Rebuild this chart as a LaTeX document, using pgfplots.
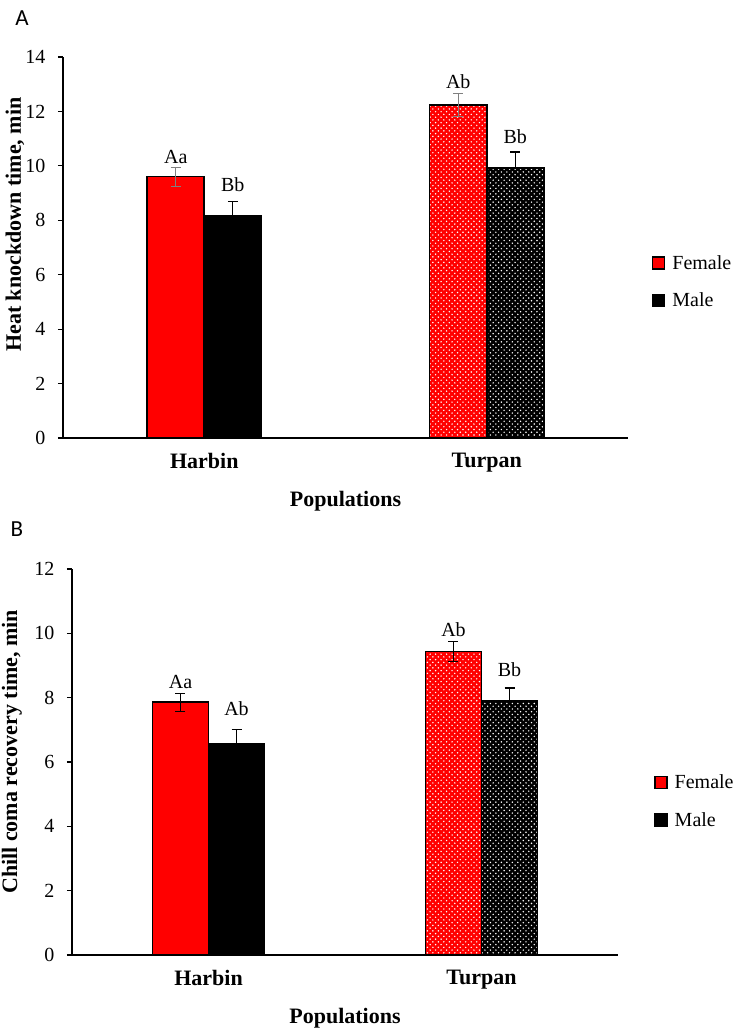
\documentclass[border=0pt]{standalone}
\usepackage{pgfplots}
\pgfplotsset{compat=1.18}
\usepackage{fontspec}
\setmainfont{Liberation Serif}
\newfontfamily\calibri{Carlito}
\usetikzlibrary{patterns}
\pgfdeclarepatternformonly{wdots}{\pgfqpoint{-1pt}{-1pt}}{\pgfqpoint{4.5pt}{4.5pt}}{\pgfqpoint{5.5pt}{5.5pt}}{%
  \pgfpathcircle{\pgfqpoint{0pt}{0pt}}{0.8pt}%
  \pgfpathcircle{\pgfqpoint{2.75pt}{2.75pt}}{0.8pt}%
  \pgfusepath{fill}}
\pgfplotsset{
  myax/.style={
    scale only axis, anchor=south west,
    axis lines*=left,
    axis line style={black, line width=1.5bp},
    xmin=-0.5, xmax=1.5,
    xtick={0,1}, xticklabels={Harbin,Turpan},
    x tick style={draw=none},
    xticklabel style={font=\fontsize{22bp}{26bp}\selectfont\bfseries, yshift=-7bp},
    tick align=outside, major tick length=5bp,
    y tick style={black, line width=1.2bp},
    yticklabel style={font=\fontsize{20bp}{24bp}\selectfont, xshift=-9bp},
    /pgf/number format/assume math mode=true,
    xlabel={Populations},
    xlabel style={font=\fontsize{22bp}{26bp}\selectfont\bfseries, at={(axis description cs:0.5,0)}, anchor=center, yshift=-63bp},
    ylabel style={font=\fontsize{22bp}{26bp}\selectfont\bfseries, anchor=center},
    legend style={draw=none, fill=none, font=\fontsize{20bp}{24bp}\selectfont, row sep=18bp, inner sep=0pt, anchor=west},
    legend cell align=left,
    legend image code/.code={\draw[#1, line width=1.5bp] (0bp,-6bp) rectangle (12bp,6bp); \path (17bp,0bp);},
    clip=false,
  },
  mybar/.style={ybar, bar width=#1, bar shift=0pt, draw=black, line width=1.5bp,
    every node near coord/.append style={font=\fontsize{20bp}{24bp}\selectfont, text=black, anchor=center}},
  errboth/.style={error bars/y dir=both, error bars/y explicit,
    error bars/error bar style={line width=1.2bp, #1},
    error bars/error mark options={rotate=90, mark size=5bp, line width=1.2bp, #1}},
  errplus/.style={error bars/y dir=plus, error bars/y explicit,
    error bars/error bar style={line width=1.2bp, #1},
    error bars/error mark options={rotate=90, mark size=5bp, line width=1.2bp, #1}},
}
\begin{document}
\begin{tikzpicture}
\useasboundingbox (0,0) rectangle (737bp,1035bp);
\node[font=\calibri\fontsize{23bp}{27bp}\selectfont] at (22bp,1017bp) {A};
\node[font=\calibri\fontsize{23bp}{27bp}\selectfont] at (17bp,506bp) {B};
% Panel A
\begin{axis}[myax, at={(63bp,597bp)}, width=565bp, height=381bp,
  ymin=0, ymax=14, ytick={0,2,...,14},
  ylabel={Heat knockdown time, min},
  ylabel style={at={(axis description cs:-0.085,0.56)}},
  legend style={at={(axis description cs:1.042,0.41)}}]
\addplot[mybar=57bp, fill=red, errboth=gray,
  nodes near coords={Aa}, every node near coord/.append style={yshift=20bp}]
  coordinates {(-0.1009,9.60) +- (0,0.35)};
\addlegendentry{Female}
\addplot[mybar=57bp, fill=black, errplus=black,
  nodes near coords={Bb}, every node near coord/.append style={yshift=31bp}]
  coordinates {(0.1009,8.16) +- (0,0.52)};
\addlegendentry{Male}
\addplot[mybar=57bp, fill=red, errboth=gray, forget plot,
  postaction={pattern=wdots, pattern color=white},
  nodes near coords={Ab}, every node near coord/.append style={yshift=23bp}]
  coordinates {(0.8991,12.24) +- (0,0.42)};
\addplot[mybar=57bp, fill=black, errplus=black, forget plot,
  postaction={pattern=wdots, pattern color=white},
  nodes near coords={Bb}, every node near coord/.append style={yshift=31bp}]
  coordinates {(1.1009,9.93) +- (0,0.58)};
\end{axis}
% Panel B
\begin{axis}[myax, at={(72bp,80bp)}, width=546bp, height=386bp,
  ymin=0, ymax=12, ytick={0,2,...,12},
  ylabel={Chill coma recovery time, min},
  ylabel style={at={(axis description cs:-0.11,0.526)}},
  legend style={at={(axis description cs:1.066,0.398)}}]
\addplot[mybar=56bp, fill=red, errboth=black,
  nodes near coords={Aa}, every node near coord/.append style={yshift=20bp}]
  coordinates {(-0.1026,7.86) +- (0,0.28)};
\addlegendentry{Female}
\addplot[mybar=56bp, fill=black, errplus=black,
  nodes near coords={Ab}, every node near coord/.append style={yshift=35bp}]
  coordinates {(0.1026,6.58) +- (0,0.42)};
\addlegendentry{Male}
\addplot[mybar=56bp, fill=red, errboth=black, forget plot,
  postaction={pattern=wdots, pattern color=white},
  nodes near coords={Ab}, every node near coord/.append style={yshift=22bp}]
  coordinates {(0.8974,9.44) +- (0,0.31)};
\addplot[mybar=56bp, fill=black, errplus=black, forget plot,
  postaction={pattern=wdots, pattern color=white},
  nodes near coords={Bb}, every node near coord/.append style={yshift=31bp}]
  coordinates {(1.1026,7.90) +- (0,0.40)};
\end{axis}
\end{tikzpicture}
\end{document}
